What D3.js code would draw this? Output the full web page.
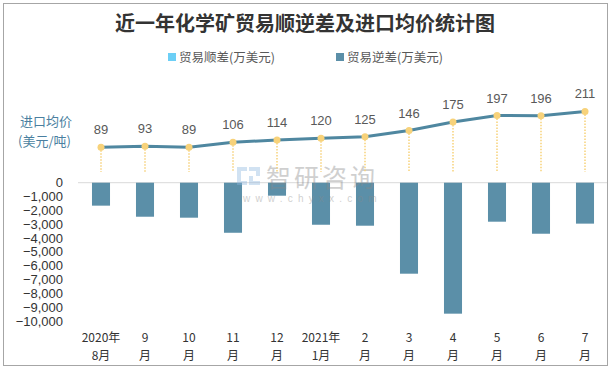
<!DOCTYPE html>
<html><head><meta charset="utf-8">
<script src="https://cdn.jsdelivr.net/npm/d3@7"></script>
<style>body{margin:0;background:#fff}svg{display:block}</style>
</head><body><svg id="c" width="611" height="369"></svg>
<script>
const months1 = ["2020年","9","10","11","12","2021年","2","3","4","5","6","7"];
const months2 = ["8月","月","月","月","月","1月","月","月","月","月","月","月"];
const surplus = [0,0,0,0,0,0,0,0,0,0,0,0];
const deficit = [-1660,-2460,-2530,-3620,-940,-3040,-3110,-6580,-9470,-2820,-3690,-2960];
const price = [89,93,89,106,114,120,125,146,175,197,196,211];
const yTicks = [0,-1000,-2000,-3000,-4000,-5000,-6000,-7000,-8000,-9000,-10000];

const svg = d3.select("#c");
const font = "'Liberation Sans','Noto Sans CJK SC',sans-serif";
const cjk = "'Noto Sans CJK SC',sans-serif";

svg.append("rect").attr("x",3.5).attr("y",3.5).attr("width",604).attr("height",362)
  .attr("fill","#fff").attr("stroke","#a6a6a6").attr("stroke-width",1);

svg.append("text").attr("x",305).attr("y",31).attr("text-anchor","middle")
  .attr("font-family",cjk).attr("font-weight",700).attr("font-size",20).attr("fill","#333")
  .text("近一年化学矿贸易顺逆差及进口均价统计图");

// legend
const lg = [{x:168,c:"#6ccff6",t:"贸易顺差(万美元)"},{x:336,c:"#5b8fa8",t:"贸易逆差(万美元)"}];
lg.forEach(d=>{
  svg.append("rect").attr("x",d.x).attr("y",53).attr("width",8).attr("height",8).attr("fill",d.c);
  svg.append("text").attr("x",d.x+11).attr("y",62).attr("font-family",cjk).attr("font-size",12.5)
    .attr("fill","#595959").text(d.t);
});

const x = d3.scaleBand().domain(d3.range(12)).range([79,607]).paddingInner(0.59).paddingOuter(0.295);
const y = d3.scaleLinear().domain([-10000,0]).range([321,182.7]);
const y2 = d3.scaleLinear().domain([0,250]).range([173.6,99.9]);

// y axis labels
svg.append("g").selectAll("text").data(yTicks).join("text")
  .attr("x",63).attr("y",d=>y(d)+4.5).attr("text-anchor","end")
  .attr("font-family",font).attr("font-size",13).attr("fill","#333")
  .text(d=>d3.format(",")(d));

svg.append("text").attr("x",20).attr("y",126).attr("font-family",cjk).attr("font-size",13).attr("fill","#4a7fa0").text("进口均价");
svg.append("text").attr("x",18).attr("y",146).attr("font-family",cjk).attr("font-size",13).attr("fill","#4a7fa0").text("(美元/吨)");

// zero line
svg.append("line").attr("x1",78).attr("x2",607).attr("y1",y(0)).attr("y2",y(0)).attr("stroke","#d9d9d9").attr("stroke-width",1);

// bars
svg.append("g").selectAll("rect").data(deficit).join("rect")
  .attr("x",(d,i)=>x(i)).attr("width",x.bandwidth())
  .attr("y",y(0)).attr("height",d=>y(d)-y(0)).attr("fill","#5b8fa8");
svg.append("g").selectAll("rect").data(surplus).join("rect")
  .attr("x",(d,i)=>x(i)).attr("width",x.bandwidth())
  .attr("y",d=>y(d)).attr("height",d=>y(0)-y(d)).attr("fill","#6ccff6");

// watermark
const wm = svg.append("g").attr("opacity",0.4);
wm.append("path").attr("d","M237,167h10v4h-6v10h6v4h-10z").attr("fill","#8fb8e0");
wm.append("path").attr("d","M249,167h11v9h-7v5h7v4h-11v-9h7v-5h-7z").attr("fill","#8fb8e0");
wm.append("text").attr("x",266).attr("y",187).attr("font-family",cjk).attr("font-size",25).attr("fill","#8a8a8a").attr("letter-spacing",3).text("智研咨询");
wm.append("text").attr("x",243).attr("y",202).attr("font-family",font).attr("font-size",10).attr("fill","#8a8a8a").attr("letter-spacing",5.2).text("www.chyxx.com");

const cx = i => x(i)+x.bandwidth()/2;

// drop lines
svg.append("g").selectAll("line").data(price).join("line")
  .attr("x1",(d,i)=>cx(i)).attr("x2",(d,i)=>cx(i)).attr("y1",d=>y2(d)).attr("y2",y2(0)-1.5)
  .attr("stroke","#f7d27a").attr("stroke-width",1.5).attr("stroke-dasharray","1.5,1.5");

// line
svg.append("path").datum(price)
  .attr("d",d3.line().x((d,i)=>cx(i)).y(d=>y2(d)))
  .attr("fill","none").attr("stroke","#4f87a0").attr("stroke-width",3);

svg.append("g").selectAll("circle").data(price).join("circle")
  .attr("cx",(d,i)=>cx(i)).attr("cy",d=>y2(d)).attr("r",3.5).attr("fill","#f7d27a");

svg.append("g").selectAll("text").data(price).join("text")
  .attr("x",(d,i)=>cx(i)).attr("y",d=>y2(d)-13).attr("text-anchor","middle")
  .attr("font-family",font).attr("font-size",13).attr("fill","#595959").text(d=>d);

// x labels
svg.append("g").selectAll("text").data(months1).join("text")
  .attr("x",(d,i)=>cx(i)).attr("y",342).attr("text-anchor","middle")
  .attr("font-family",cjk).attr("font-size",12).attr("fill","#333").text(d=>d);
svg.append("g").selectAll("text").data(months2).join("text")
  .attr("x",(d,i)=>cx(i)).attr("y",360).attr("text-anchor","middle")
  .attr("font-family",cjk).attr("font-size",12).attr("fill","#333").text(d=>d);
</script></body></html>
